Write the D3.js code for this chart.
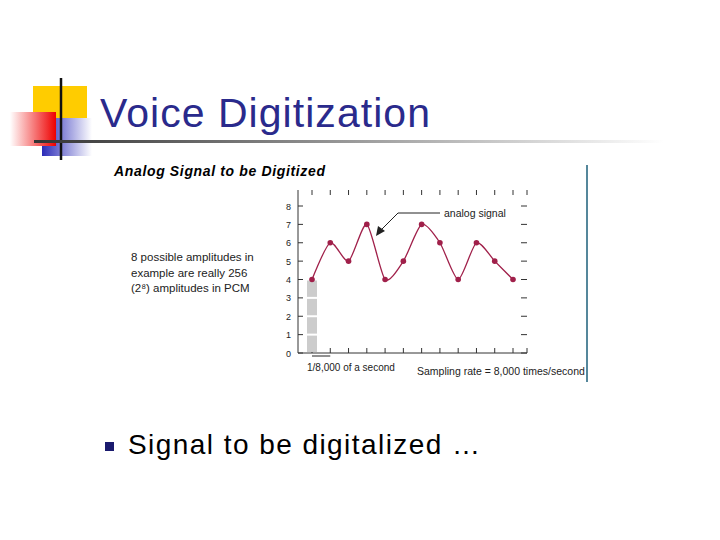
<!DOCTYPE html><html><head><meta charset="utf-8"><script src="https://d3js.org/d3.v7.min.js"></script>
<style>body{margin:0;background:#fff}</style></head><body><script>
const samples=[0,1,2,3,4,5,6,7,8,9,10,11];
const amplitudes=[4,6,5,7,4,5,7,6,4,6,5,4];
const yTicks=[0,1,2,3,4,5,6,7,8];
const svg=d3.select("body").append("svg").attr("width",720).attr("height",540);
const defs=svg.append("defs");
const g1=defs.append("linearGradient").attr("id","rg").attr("x1",1).attr("x2",0);
g1.append("stop").attr("offset",0).attr("stop-color","#e00");g1.append("stop").attr("offset",1).attr("stop-color","#fff");
const g2=defs.append("linearGradient").attr("id","bg").attr("x1",0).attr("x2",1);
g2.append("stop").attr("offset",0).attr("stop-color","#2b2bb8");g2.append("stop").attr("offset",1).attr("stop-color","#fff");
const g3=defs.append("linearGradient").attr("id","lg").attr("x1",0).attr("x2",1);
g3.append("stop").attr("offset",0).attr("stop-color","#333");g3.append("stop").attr("offset",1).attr("stop-color","#fff");
svg.append("rect").attr("x",33).attr("y",86).attr("width",54).attr("height",38).attr("fill","#ffcc00");
svg.append("rect").attr("x",42).attr("y",118).attr("width",50).attr("height",38).attr("fill","url(#bg)");
svg.append("rect").attr("x",10).attr("y",112).attr("width",46).attr("height",34).attr("fill","url(#rg)");
svg.append("line").attr("x1",61).attr("x2",61).attr("y1",78).attr("y2",160).attr("stroke","#111").attr("stroke-width",2.5);
svg.append("rect").attr("x",34).attr("y",140).attr("width",630).attr("height",3).attr("fill","url(#lg)");
svg.append("text").attr("x",100).attr("y",127).attr("font-family","Liberation Sans, Arial").attr("font-size",41).attr("textLength",330).attr("fill","#2a2a8c").text("Voice Digitization");
svg.append("text").attr("x",114).attr("y",176).attr("font-family","Liberation Sans, Arial").attr("font-size",14).attr("font-weight","bold").attr("font-style","italic").attr("textLength",211).text("Analog Signal to be Digitized");
const pl=svg.append("g").attr("font-family","Liberation Sans, Arial").attr("font-size",11.5).attr("fill","#222");
["8 possible amplitudes in","example are really 256","(2\u2078) amplitudes in PCM"].forEach((t,i)=>pl.append("text").attr("x",131).attr("y",261+i*15.5).text(t));
svg.append("line").attr("x1",587).attr("x2",587).attr("y1",165).attr("y2",382).attr("stroke","#1d5f7a").attr("stroke-width",1.5);
const x=d3.scaleLinear().domain([0,11]).range([312,513]);
const y=d3.scaleLinear().domain([0,8]).range([353,206]);
const c=svg.append("g").attr("stroke","#333").attr("stroke-width",1);
c.append("line").attr("x1",298).attr("x2",298).attr("y1",190).attr("y2",353);
c.append("line").attr("x1",298).attr("x2",527).attr("y1",353).attr("y2",353);
yTicks.forEach(t=>{c.append("line").attr("x1",298).attr("x2",303).attr("y1",y(t)).attr("y2",y(t));c.append("line").attr("x1",521).attr("x2",527).attr("y1",y(t)).attr("y2",y(t));
svg.append("text").attr("x",291).attr("y",y(t)+3.5).attr("text-anchor","end").attr("font-family","Liberation Sans, Arial").attr("font-size",9).attr("fill","#222").text(t);});
samples.concat([12]).forEach(s=>{const xx=s<12?x(s):527;c.append("line").attr("x1",xx).attr("x2",xx).attr("y1",190).attr("y2",195);c.append("line").attr("x1",xx).attr("x2",xx).attr("y1",348).attr("y2",353);});
[0,1,2,3].forEach(k=>svg.append("rect").attr("x",x(0)-5).attr("width",10).attr("y",y(k+1)+1).attr("height",y(k)-y(k+1)-2).attr("fill","#ccc"));
svg.append("path").datum(samples).attr("d",d3.line().x(d=>x(d)).y(d=>y(amplitudes[d])).curve(d3.curveCardinal.tension(0.3))).attr("fill","none").attr("stroke","#a0204a").attr("stroke-width",1.3);
svg.selectAll("circle.p").data(samples).join("circle").attr("cx",d=>x(d)).attr("cy",d=>y(amplitudes[d])).attr("r",2.8).attr("fill","#a0204a");
svg.append("text").attr("x",444).attr("y",217).attr("font-family","Liberation Sans, Arial").attr("font-size",10.5).attr("fill","#222").text("analog signal");
svg.append("polyline").attr("points","440,213 398,213 380,231").attr("fill","none").attr("stroke","#222");
svg.append("path").attr("d","M376,236 L378,226 L385,231 Z").attr("fill","#222");
svg.append("line").attr("x1",x(0)).attr("x2",x(1)).attr("y1",356).attr("y2",356).attr("stroke","#222");
svg.append("text").attr("x",307).attr("y",371).attr("font-family","Liberation Sans, Arial").attr("font-size",10).attr("fill","#222").text("1/8,000 of a second");
svg.append("text").attr("x",417).attr("y",375).attr("font-family","Liberation Sans, Arial").attr("font-size",10.5).attr("fill","#222").text("Sampling rate = 8,000 times/second");
svg.append("rect").attr("x",105).attr("y",442).attr("width",9).attr("height",9).attr("fill","#1a1a6e");
svg.append("text").attr("x",128).attr("y",454).attr("font-family","Liberation Sans, Arial").attr("font-size",28).attr("textLength",352).attr("fill","#000").text("Signal to be digitalized …");
</script></body></html>
